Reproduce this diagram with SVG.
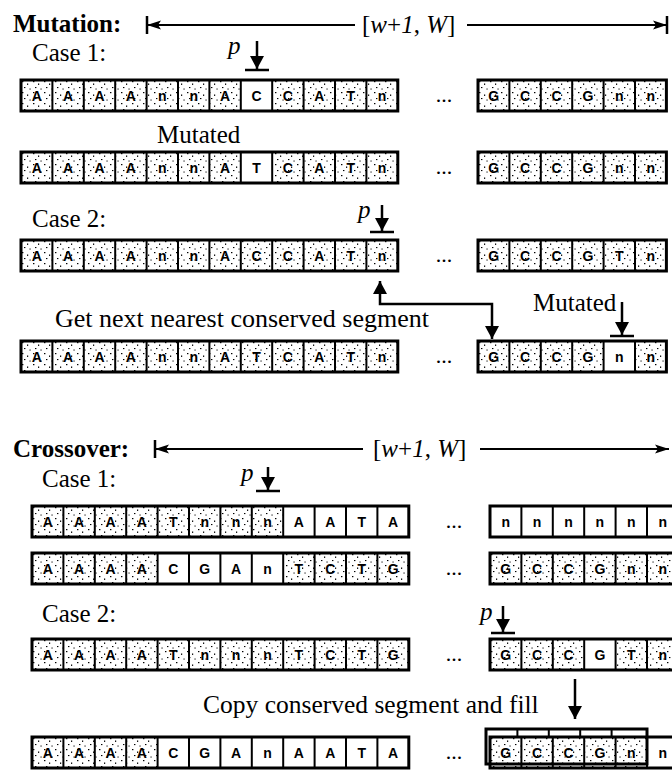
<svg xmlns="http://www.w3.org/2000/svg" width="672" height="770" viewBox="0 0 672 770">
<style>
.lbl{font-family:"Liberation Serif","Times New Roman",serif;font-size:25px;fill:#000}
.ttl{font-family:"Liberation Serif","Times New Roman",serif;font-size:25px;font-weight:bold;fill:#000}
.it{font-style:italic}
.c{font-family:"Liberation Sans",Arial,sans-serif;font-size:14px;font-weight:bold;text-anchor:middle;fill:#000}
.dots{font-family:"Liberation Serif",serif;font-size:22px;text-anchor:middle;fill:#000}
.frame{fill:none;stroke:#000;stroke-width:3}
.div{fill:none;stroke:#000;stroke-width:2}
.sh{fill:url(#stip)}
.wl{fill:#fff}
.ln{stroke:#000;stroke-width:2;fill:none}
.arr{stroke:#000;stroke-width:2.5;fill:none;marker-end:url(#ahb)}
.bar{stroke:#000;stroke-width:2.5}
</style>
<defs>
<pattern id="stip" width="11" height="11" patternUnits="userSpaceOnUse">
<rect width="11" height="11" fill="#fff"/>
<rect x="1" y="1" width="1.4" height="1.2" fill="#000"/>
<rect x="6" y="3.5" width="1.2" height="1.4" fill="#000"/>
<rect x="3" y="7" width="1.4" height="1.1" fill="#000"/>
<rect x="8.5" y="8.5" width="1.1" height="1.1" fill="#000"/>
</pattern>
<marker id="ah" viewBox="0 0 14 10" refX="14" refY="5" markerWidth="14" markerHeight="10" markerUnits="userSpaceOnUse" orient="auto-start-reverse">
<path d="M0,0.5 L14,5 L0,9.5 L3,5 z" fill="#000"/>
</marker>
<marker id="ahb" viewBox="0 0 13 14" refX="13" refY="7" markerWidth="13" markerHeight="14" markerUnits="userSpaceOnUse" orient="auto-start-reverse">
<path d="M0,0 L13,7 L0,14 z" fill="#000"/>
</marker>
</defs>

<!-- Headers -->
<g id="mutation-title">
<text class="ttl" x="13" y="32">Mutation:</text>
</g>
<g id="mutation-range">
<line class="bar" x1="147" y1="16" x2="147" y2="34"/>
<line class="bar" x1="667" y1="16" x2="667" y2="34"/>
<line class="ln" x1="147" y1="25" x2="355" y2="25" marker-start="url(#ah)"/>
<line class="ln" x1="467" y1="25" x2="667" y2="25" marker-end="url(#ah)"/>
<text class="lbl" x="362" y="33">[<tspan class="it">w</tspan>+<tspan class="it">1</tspan>, <tspan class="it">W</tspan>]</text>
</g>
<g id="labels-mutation">
<text class="lbl" x="32" y="61">Case 1:</text>
<text class="lbl" x="157" y="143">Mutated</text>
<text class="lbl" x="32" y="227">Case 2:</text>
<text class="lbl" x="55" y="327" style="font-size:26px">Get next nearest conserved segment</text>
<text class="lbl" x="533" y="311">Mutated</text>
</g>

<!-- Mutation row 1 -->
<g id="m1-left" transform="translate(21,80)">
<rect class="sh" width="219.8" height="31"/><rect class="wl" x="219.8" width="31.4" height="31"/><rect class="sh" x="251.2" width="125.6" height="31"/>
<rect class="frame" width="376.8" height="31"/>
<path class="div" d="M31.4 0V31M62.8 0V31M94.2 0V31M125.6 0V31M157 0V31M188.4 0V31M219.8 0V31M251.2 0V31M282.6 0V31M314 0V31M345.4 0V31"/>
<text class="c" x="15.7" y="21">A</text><text class="c" x="47.1" y="21">A</text><text class="c" x="78.5" y="21">A</text><text class="c" x="109.9" y="21">A</text><text class="c" x="141.3" y="21">n</text><text class="c" x="172.7" y="21">n</text><text class="c" x="204.1" y="21">A</text><text class="c" x="235.5" y="21">C</text><text class="c" x="266.9" y="21">C</text><text class="c" x="298.3" y="21">A</text><text class="c" x="329.7" y="21">T</text><text class="c" x="361.1" y="21">n</text>
</g>
<text class="dots" x="444" y="102">...</text>
<g id="m1-right" transform="translate(478,80)">
<rect class="sh" width="188.4" height="31"/>
<rect class="frame" width="188.4" height="31"/>
<path class="div" d="M31.4 0V31M62.8 0V31M94.2 0V31M125.6 0V31M157 0V31"/>
<text class="c" x="15.7" y="21">G</text><text class="c" x="47.1" y="21">C</text><text class="c" x="78.5" y="21">C</text><text class="c" x="109.9" y="21">G</text><text class="c" x="141.3" y="21">n</text><text class="c" x="172.7" y="21">n</text>
</g>

<!-- Mutation row 2 -->
<g id="m2-left" transform="translate(21,152)">
<rect class="sh" width="219.8" height="31"/><rect class="wl" x="219.8" width="31.4" height="31"/><rect class="sh" x="251.2" width="125.6" height="31"/>
<rect class="frame" width="376.8" height="31"/>
<path class="div" d="M31.4 0V31M62.8 0V31M94.2 0V31M125.6 0V31M157 0V31M188.4 0V31M219.8 0V31M251.2 0V31M282.6 0V31M314 0V31M345.4 0V31"/>
<text class="c" x="15.7" y="21">A</text><text class="c" x="47.1" y="21">A</text><text class="c" x="78.5" y="21">A</text><text class="c" x="109.9" y="21">A</text><text class="c" x="141.3" y="21">n</text><text class="c" x="172.7" y="21">n</text><text class="c" x="204.1" y="21">A</text><text class="c" x="235.5" y="21">T</text><text class="c" x="266.9" y="21">C</text><text class="c" x="298.3" y="21">A</text><text class="c" x="329.7" y="21">T</text><text class="c" x="361.1" y="21">n</text>
</g>
<text class="dots" x="444" y="174">...</text>
<g id="m2-right" transform="translate(478,152)">
<rect class="sh" width="188.4" height="31"/>
<rect class="frame" width="188.4" height="31"/>
<path class="div" d="M31.4 0V31M62.8 0V31M94.2 0V31M125.6 0V31M157 0V31"/>
<text class="c" x="15.7" y="21">G</text><text class="c" x="47.1" y="21">C</text><text class="c" x="78.5" y="21">C</text><text class="c" x="109.9" y="21">G</text><text class="c" x="141.3" y="21">n</text><text class="c" x="172.7" y="21">n</text>
</g>

<!-- Mutation row 3 -->
<g id="m3-left" transform="translate(21,240)">
<rect class="sh" width="376.8" height="31"/>
<rect class="frame" width="376.8" height="31"/>
<path class="div" d="M31.4 0V31M62.8 0V31M94.2 0V31M125.6 0V31M157 0V31M188.4 0V31M219.8 0V31M251.2 0V31M282.6 0V31M314 0V31M345.4 0V31"/>
<text class="c" x="15.7" y="21">A</text><text class="c" x="47.1" y="21">A</text><text class="c" x="78.5" y="21">A</text><text class="c" x="109.9" y="21">A</text><text class="c" x="141.3" y="21">n</text><text class="c" x="172.7" y="21">n</text><text class="c" x="204.1" y="21">A</text><text class="c" x="235.5" y="21">C</text><text class="c" x="266.9" y="21">C</text><text class="c" x="298.3" y="21">A</text><text class="c" x="329.7" y="21">T</text><text class="c" x="361.1" y="21">n</text>
</g>
<text class="dots" x="444" y="262">...</text>
<g id="m3-right" transform="translate(478,240)">
<rect class="sh" width="188.4" height="31"/>
<rect class="frame" width="188.4" height="31"/>
<path class="div" d="M31.4 0V31M62.8 0V31M94.2 0V31M125.6 0V31M157 0V31"/>
<text class="c" x="15.7" y="21">G</text><text class="c" x="47.1" y="21">C</text><text class="c" x="78.5" y="21">C</text><text class="c" x="109.9" y="21">G</text><text class="c" x="141.3" y="21">T</text><text class="c" x="172.7" y="21">n</text>
</g>

<!-- Mutation row 4 -->
<g id="m4-left" transform="translate(21,341)">
<rect class="sh" width="376.8" height="31"/>
<rect class="frame" width="376.8" height="31"/>
<path class="div" d="M31.4 0V31M62.8 0V31M94.2 0V31M125.6 0V31M157 0V31M188.4 0V31M219.8 0V31M251.2 0V31M282.6 0V31M314 0V31M345.4 0V31"/>
<text class="c" x="15.7" y="21">A</text><text class="c" x="47.1" y="21">A</text><text class="c" x="78.5" y="21">A</text><text class="c" x="109.9" y="21">A</text><text class="c" x="141.3" y="21">n</text><text class="c" x="172.7" y="21">n</text><text class="c" x="204.1" y="21">A</text><text class="c" x="235.5" y="21">T</text><text class="c" x="266.9" y="21">C</text><text class="c" x="298.3" y="21">A</text><text class="c" x="329.7" y="21">T</text><text class="c" x="361.1" y="21">n</text>
</g>
<text class="dots" x="444" y="363">...</text>
<g id="m4-right" transform="translate(478,341)">
<rect class="sh" width="125.6" height="31"/><rect class="wl" x="125.6" width="31.4" height="31"/><rect class="sh" x="157" width="31.4" height="31"/>
<rect class="frame" width="188.4" height="31"/>
<path class="div" d="M31.4 0V31M62.8 0V31M94.2 0V31M125.6 0V31M157 0V31"/>
<text class="c" x="15.7" y="21">G</text><text class="c" x="47.1" y="21">C</text><text class="c" x="78.5" y="21">C</text><text class="c" x="109.9" y="21">G</text><text class="c" x="141.3" y="21">n</text><text class="c" x="172.7" y="21">n</text>
</g>

<!-- Crossover header -->
<g id="crossover-title">
<text class="ttl" x="13" y="457">Crossover:</text>
</g>
<g id="crossover-range">
<line class="bar" x1="155" y1="440" x2="155" y2="458"/>
<line class="ln" x1="155" y1="449" x2="363" y2="449" marker-start="url(#ah)"/>
<line class="ln" x1="480" y1="449" x2="669" y2="449" marker-end="url(#ah)"/>
<text class="lbl" x="373" y="457">[<tspan class="it">w</tspan>+<tspan class="it">1</tspan>, <tspan class="it">W</tspan>]</text>
</g>
<g id="labels-crossover">
<text class="lbl" x="42" y="487">Case 1:</text>
<text class="lbl" x="42" y="622">Case 2:</text>
<text class="lbl" x="203" y="713" style="font-size:25.5px">Copy conserved segment and fill</text>
</g>

<!-- Crossover row 1 -->
<g id="c1-left" transform="translate(32,506)">
<rect class="sh" width="251.2" height="31"/><rect class="wl" x="251.2" width="125.6" height="31"/>
<rect class="frame" width="376.8" height="31"/>
<path class="div" d="M31.4 0V31M62.8 0V31M94.2 0V31M125.6 0V31M157 0V31M188.4 0V31M219.8 0V31M251.2 0V31M282.6 0V31M314 0V31M345.4 0V31"/>
<text class="c" x="15.7" y="21">A</text><text class="c" x="47.1" y="21">A</text><text class="c" x="78.5" y="21">A</text><text class="c" x="109.9" y="21">A</text><text class="c" x="141.3" y="21">T</text><text class="c" x="172.7" y="21">n</text><text class="c" x="204.1" y="21">n</text><text class="c" x="235.5" y="21">n</text><text class="c" x="266.9" y="21">A</text><text class="c" x="298.3" y="21">A</text><text class="c" x="329.7" y="21">T</text><text class="c" x="361.1" y="21">A</text>
</g>
<text class="dots" x="454" y="528">...</text>
<g id="c1-right" transform="translate(490,506)">
<rect class="wl" width="188.4" height="31"/>
<rect class="frame" width="188.4" height="31"/>
<path class="div" d="M31.4 0V31M62.8 0V31M94.2 0V31M125.6 0V31M157 0V31"/>
<text class="c" x="15.7" y="21">n</text><text class="c" x="47.1" y="21">n</text><text class="c" x="78.5" y="21">n</text><text class="c" x="109.9" y="21">n</text><text class="c" x="141.3" y="21">n</text><text class="c" x="172.7" y="21">n</text>
</g>

<!-- Crossover row 2 -->
<g id="c2-left" transform="translate(32,553)">
<rect class="sh" width="125.6" height="31"/><rect class="wl" x="125.6" width="125.6" height="31"/><rect class="sh" x="251.2" width="125.6" height="31"/>
<rect class="frame" width="376.8" height="31"/>
<path class="div" d="M31.4 0V31M62.8 0V31M94.2 0V31M125.6 0V31M157 0V31M188.4 0V31M219.8 0V31M251.2 0V31M282.6 0V31M314 0V31M345.4 0V31"/>
<text class="c" x="15.7" y="21">A</text><text class="c" x="47.1" y="21">A</text><text class="c" x="78.5" y="21">A</text><text class="c" x="109.9" y="21">A</text><text class="c" x="141.3" y="21">C</text><text class="c" x="172.7" y="21">G</text><text class="c" x="204.1" y="21">A</text><text class="c" x="235.5" y="21">n</text><text class="c" x="266.9" y="21">T</text><text class="c" x="298.3" y="21">C</text><text class="c" x="329.7" y="21">T</text><text class="c" x="361.1" y="21">G</text>
</g>
<text class="dots" x="454" y="575">...</text>
<g id="c2-right" transform="translate(490,553)">
<rect class="sh" width="188.4" height="31"/>
<rect class="frame" width="188.4" height="31"/>
<path class="div" d="M31.4 0V31M62.8 0V31M94.2 0V31M125.6 0V31M157 0V31"/>
<text class="c" x="15.7" y="21">G</text><text class="c" x="47.1" y="21">C</text><text class="c" x="78.5" y="21">C</text><text class="c" x="109.9" y="21">G</text><text class="c" x="141.3" y="21">n</text><text class="c" x="172.7" y="21">n</text>
</g>

<!-- Crossover row 3 -->
<g id="c3-left" transform="translate(32,639)">
<rect class="sh" width="376.8" height="31"/>
<rect class="frame" width="376.8" height="31"/>
<path class="div" d="M31.4 0V31M62.8 0V31M94.2 0V31M125.6 0V31M157 0V31M188.4 0V31M219.8 0V31M251.2 0V31M282.6 0V31M314 0V31M345.4 0V31"/>
<text class="c" x="15.7" y="21">A</text><text class="c" x="47.1" y="21">A</text><text class="c" x="78.5" y="21">A</text><text class="c" x="109.9" y="21">A</text><text class="c" x="141.3" y="21">T</text><text class="c" x="172.7" y="21">n</text><text class="c" x="204.1" y="21">n</text><text class="c" x="235.5" y="21">n</text><text class="c" x="266.9" y="21">T</text><text class="c" x="298.3" y="21">C</text><text class="c" x="329.7" y="21">T</text><text class="c" x="361.1" y="21">G</text>
</g>
<text class="dots" x="454" y="661">...</text>
<g id="c3-right" transform="translate(490,639)">
<rect class="sh" width="94.2" height="31"/><rect class="wl" x="94.2" width="31.4" height="31"/><rect class="sh" x="125.6" width="62.8" height="31"/>
<rect class="frame" width="188.4" height="31"/>
<path class="div" d="M31.4 0V31M62.8 0V31M94.2 0V31M125.6 0V31M157 0V31"/>
<text class="c" x="15.7" y="21">G</text><text class="c" x="47.1" y="21">C</text><text class="c" x="78.5" y="21">C</text><text class="c" x="109.9" y="21">G</text><text class="c" x="141.3" y="21">T</text><text class="c" x="172.7" y="21">n</text>
</g>

<!-- Crossover row 4 -->
<g id="c4-left" transform="translate(32,737)">
<rect class="sh" width="125.6" height="31"/><rect class="wl" x="125.6" width="251.2" height="31"/>
<rect class="frame" width="376.8" height="31"/>
<path class="div" d="M31.4 0V31M62.8 0V31M94.2 0V31M125.6 0V31M157 0V31M188.4 0V31M219.8 0V31M251.2 0V31M282.6 0V31M314 0V31M345.4 0V31"/>
<text class="c" x="15.7" y="21">A</text><text class="c" x="47.1" y="21">A</text><text class="c" x="78.5" y="21">A</text><text class="c" x="109.9" y="21">A</text><text class="c" x="141.3" y="21">C</text><text class="c" x="172.7" y="21">G</text><text class="c" x="204.1" y="21">A</text><text class="c" x="235.5" y="21">n</text><text class="c" x="266.9" y="21">A</text><text class="c" x="298.3" y="21">A</text><text class="c" x="329.7" y="21">T</text><text class="c" x="361.1" y="21">A</text>
</g>
<text class="dots" x="454" y="759">...</text>
<g id="c4-right" transform="translate(490,737)">
<rect class="sh" width="157" height="31"/><rect class="wl" x="157" width="31.4" height="31"/>
<rect class="frame" width="188.4" height="31"/>
<path class="div" d="M31.4 0V31M62.8 0V31M94.2 0V31M125.6 0V31M157 0V31"/>
<rect class="frame" x="-4" y="-8" width="161" height="35"/>
<path class="div" d="M27.4 -8V-1M58.8 -8V-1M90.2 -8V-1M121.6 -8V-1"/>
<text class="c" x="15.7" y="21">G</text><text class="c" x="47.1" y="21">C</text><text class="c" x="78.5" y="21">C</text><text class="c" x="109.9" y="21">G</text><text class="c" x="141.3" y="21">n</text><text class="c" x="172.7" y="21">n</text>
</g>

<!-- Connectors / markers -->
<g id="connectors">
<g id="p-m1">
<text class="lbl it" x="228" y="54">p</text>
<line class="arr" x1="257" y1="41" x2="257" y2="69"/>
<line class="bar" x1="245" y1="70" x2="269" y2="70"/>
</g>
<g id="p-m3">
<text class="lbl it" x="358" y="218">p</text>
<line class="arr" x1="382" y1="205" x2="382" y2="231"/>
<line class="bar" x1="370" y1="232" x2="394" y2="232"/>
</g>
<g id="mutated-mark">
<line class="arr" x1="622" y1="302" x2="622" y2="335"/>
<line class="bar" x1="610" y1="336" x2="634" y2="336"/>
</g>
<path id="next-segment" d="M380,281 V304 H492 V339" stroke="#000" stroke-width="2.5" fill="none" marker-start="url(#ahb)" marker-end="url(#ahb)"/>
<g id="p-c1">
<text class="lbl it" x="241" y="481">p</text>
<line class="arr" x1="268" y1="467" x2="268" y2="490"/>
<line class="bar" x1="256" y1="491" x2="280" y2="491"/>
</g>
<g id="p-c3">
<text class="lbl it" x="480" y="620">p</text>
<line class="arr" x1="503" y1="606" x2="503" y2="632"/>
<line class="bar" x1="491" y1="633" x2="515" y2="633"/>
</g>
<line id="copy-arrow" class="arr" x1="575" y1="679" x2="575" y2="719"/>
</g>
</svg>
